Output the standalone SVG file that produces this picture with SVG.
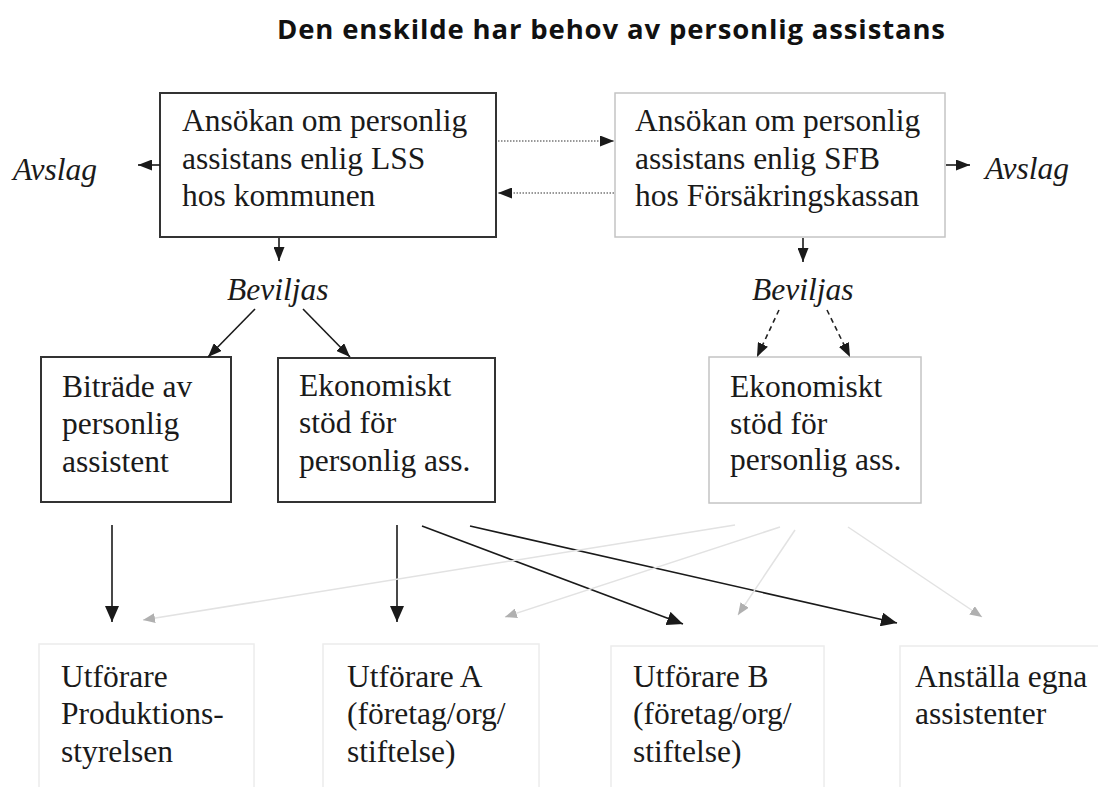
<svg xmlns="http://www.w3.org/2000/svg" width="1098" height="787" viewBox="0 0 1098 787">
<defs>
<style>
.t{font-size:31.5px;fill:#1a1a1a}
.i{font-style:italic}
.bx{fill:#fff;stroke:#333;stroke-width:2}
.lb{fill:#fff;stroke:#c4c4c4;stroke-width:1.5}
.fb{fill:none;stroke:#ececec;stroke-width:1.5}
.a{stroke:#1a1a1a;stroke-width:1.6;fill:none}
.d{stroke:#777;stroke-width:1.6;stroke-dasharray:1.5 1.5;fill:none}
.ds{stroke:#222;stroke-width:1.6;stroke-dasharray:5 4;fill:none}
.f{stroke:#e2e2e2;stroke-width:1.5;fill:none}
</style>
<marker id="ah" markerUnits="userSpaceOnUse" markerWidth="16" markerHeight="14" refX="16" refY="7" orient="auto"><path d="M0,0 L16,7 L0,14 z" fill="#1a1a1a"/></marker>
<marker id="ahs" markerUnits="userSpaceOnUse" markerWidth="14" markerHeight="11" refX="14" refY="5.5" orient="auto"><path d="M0,0 L14,5.5 L0,11 z" fill="#1a1a1a"/></marker>
<marker id="ahf" markerUnits="userSpaceOnUse" markerWidth="12" markerHeight="10" refX="12" refY="5" orient="auto"><path d="M0,0 L12,5 L0,10 z" fill="#b0b0b0"/></marker>
</defs>
<rect width="1098" height="787" fill="#fff"/>
<text x="611" y="39" text-anchor="middle" font-family="'Open Sans', 'Liberation Sans', sans-serif" font-weight="bold" font-size="27.5" fill="#111" textLength="668">Den enskilde har behov av personlig assistans</text>

<g font-family="'Liberation Serif', 'DejaVu Serif', serif">
<g id="lss">
<rect class="bx" x="160" y="93" width="336" height="144"/>
<text class="t" x="182" y="131">Ansökan om personlig</text>
<text class="t" x="182" y="169">assistans enlig LSS</text>
<text class="t" x="182" y="206">hos kommunen</text>
</g>
<g id="sfb">
<rect class="lb" x="615" y="93" width="330" height="144"/>
<text class="t" x="635" y="131">Ansökan om personlig</text>
<text class="t" x="635" y="169">assistans enlig SFB</text>
<text class="t" x="635" y="206">hos Försäkringskassan</text>
</g>
<g id="avslag-left"><text class="t i" x="13" y="180">Avslag</text></g>
<g id="avslag-right"><text class="t i" x="985" y="179">Avslag</text></g>
<g id="beviljas-left"><text class="t i" x="227" y="300">Beviljas</text></g>
<g id="beviljas-right"><text class="t i" x="752" y="300">Beviljas</text></g>
<g id="bitrade">
<rect class="bx" x="41" y="357" width="190" height="145"/>
<text class="t" x="62" y="397">Biträde av</text>
<text class="t" x="62" y="434">personlig</text>
<text class="t" x="62" y="472">assistent</text>
</g>
<g id="ekonomiskt-lss">
<rect class="bx" x="278" y="358" width="217" height="144"/>
<text class="t" x="299" y="396">Ekonomiskt</text>
<text class="t" x="299" y="433">stöd för</text>
<text class="t" x="299" y="471">personlig ass.</text>
</g>
<g id="ekonomiskt-sfb">
<rect class="lb" x="709" y="357" width="212" height="146"/>
<text class="t" x="730" y="397">Ekonomiskt</text>
<text class="t" x="730" y="434">stöd för</text>
<text class="t" x="730" y="470">personlig ass.</text>
</g>
<g id="utforare-ps">
<rect class="fb" x="39" y="644" width="215" height="150"/>
<text class="t" x="61" y="687">Utförare</text>
<text class="t" x="61" y="724">Produktions-</text>
<text class="t" x="61" y="762">styrelsen</text>
</g>
<g id="utforare-a">
<rect class="fb" x="323" y="644" width="216" height="150"/>
<text class="t" x="347" y="687">Utförare A</text>
<text class="t" x="347" y="724">(företag/org/</text>
<text class="t" x="347" y="762">stiftelse)</text>
</g>
<g id="utforare-b">
<rect class="fb" x="611" y="646" width="213" height="150"/>
<text class="t" x="633" y="687">Utförare B</text>
<text class="t" x="633" y="724">(företag/org/</text>
<text class="t" x="633" y="762">stiftelse)</text>
</g>
<g id="egna">
<rect class="fb" x="900" y="646" width="210" height="150"/>
<text class="t" x="915" y="687">Anställa egna</text>
<text class="t" x="915" y="724">assistenter</text>
</g>
</g>

<g id="connectors">
<line class="a" x1="160" y1="165" x2="138" y2="165" marker-end="url(#ahs)"/>
<line class="a" x1="946" y1="165" x2="970" y2="165" marker-end="url(#ahs)"/>
<line class="d" x1="498" y1="141" x2="614" y2="141" marker-end="url(#ahs)"/>
<line class="d" x1="614" y1="193" x2="498" y2="193" marker-end="url(#ahs)"/>
<line class="a" x1="279" y1="238" x2="279" y2="261" marker-end="url(#ahs)"/>
<line class="a" x1="803" y1="238" x2="803" y2="262" marker-end="url(#ahs)"/>
<line class="a" x1="255" y1="309" x2="208" y2="357" marker-end="url(#ahs)"/>
<line class="a" x1="303" y1="309" x2="350" y2="357" marker-end="url(#ahs)"/>
<line class="ds" x1="779" y1="310" x2="757" y2="357" marker-end="url(#ahs)"/>
<line class="ds" x1="827" y1="310" x2="850" y2="357" marker-end="url(#ahs)"/>
<line class="a" x1="112" y1="525" x2="112" y2="622" marker-end="url(#ah)"/>
<line class="a" x1="397" y1="525" x2="397" y2="622" marker-end="url(#ah)"/>
<line class="a" x1="422" y1="526" x2="683" y2="624" marker-end="url(#ah)"/>
<line class="a" x1="470" y1="526" x2="897" y2="623" marker-end="url(#ah)"/>
<line class="f" x1="735" y1="525" x2="143" y2="620" marker-end="url(#ahf)"/>
<line class="f" x1="780" y1="527" x2="505" y2="617" marker-end="url(#ahf)"/>
<line class="f" x1="795" y1="530" x2="738" y2="615" marker-end="url(#ahf)"/>
<line class="f" x1="848" y1="527" x2="982" y2="617" marker-end="url(#ahf)"/>
</g>
</svg>
